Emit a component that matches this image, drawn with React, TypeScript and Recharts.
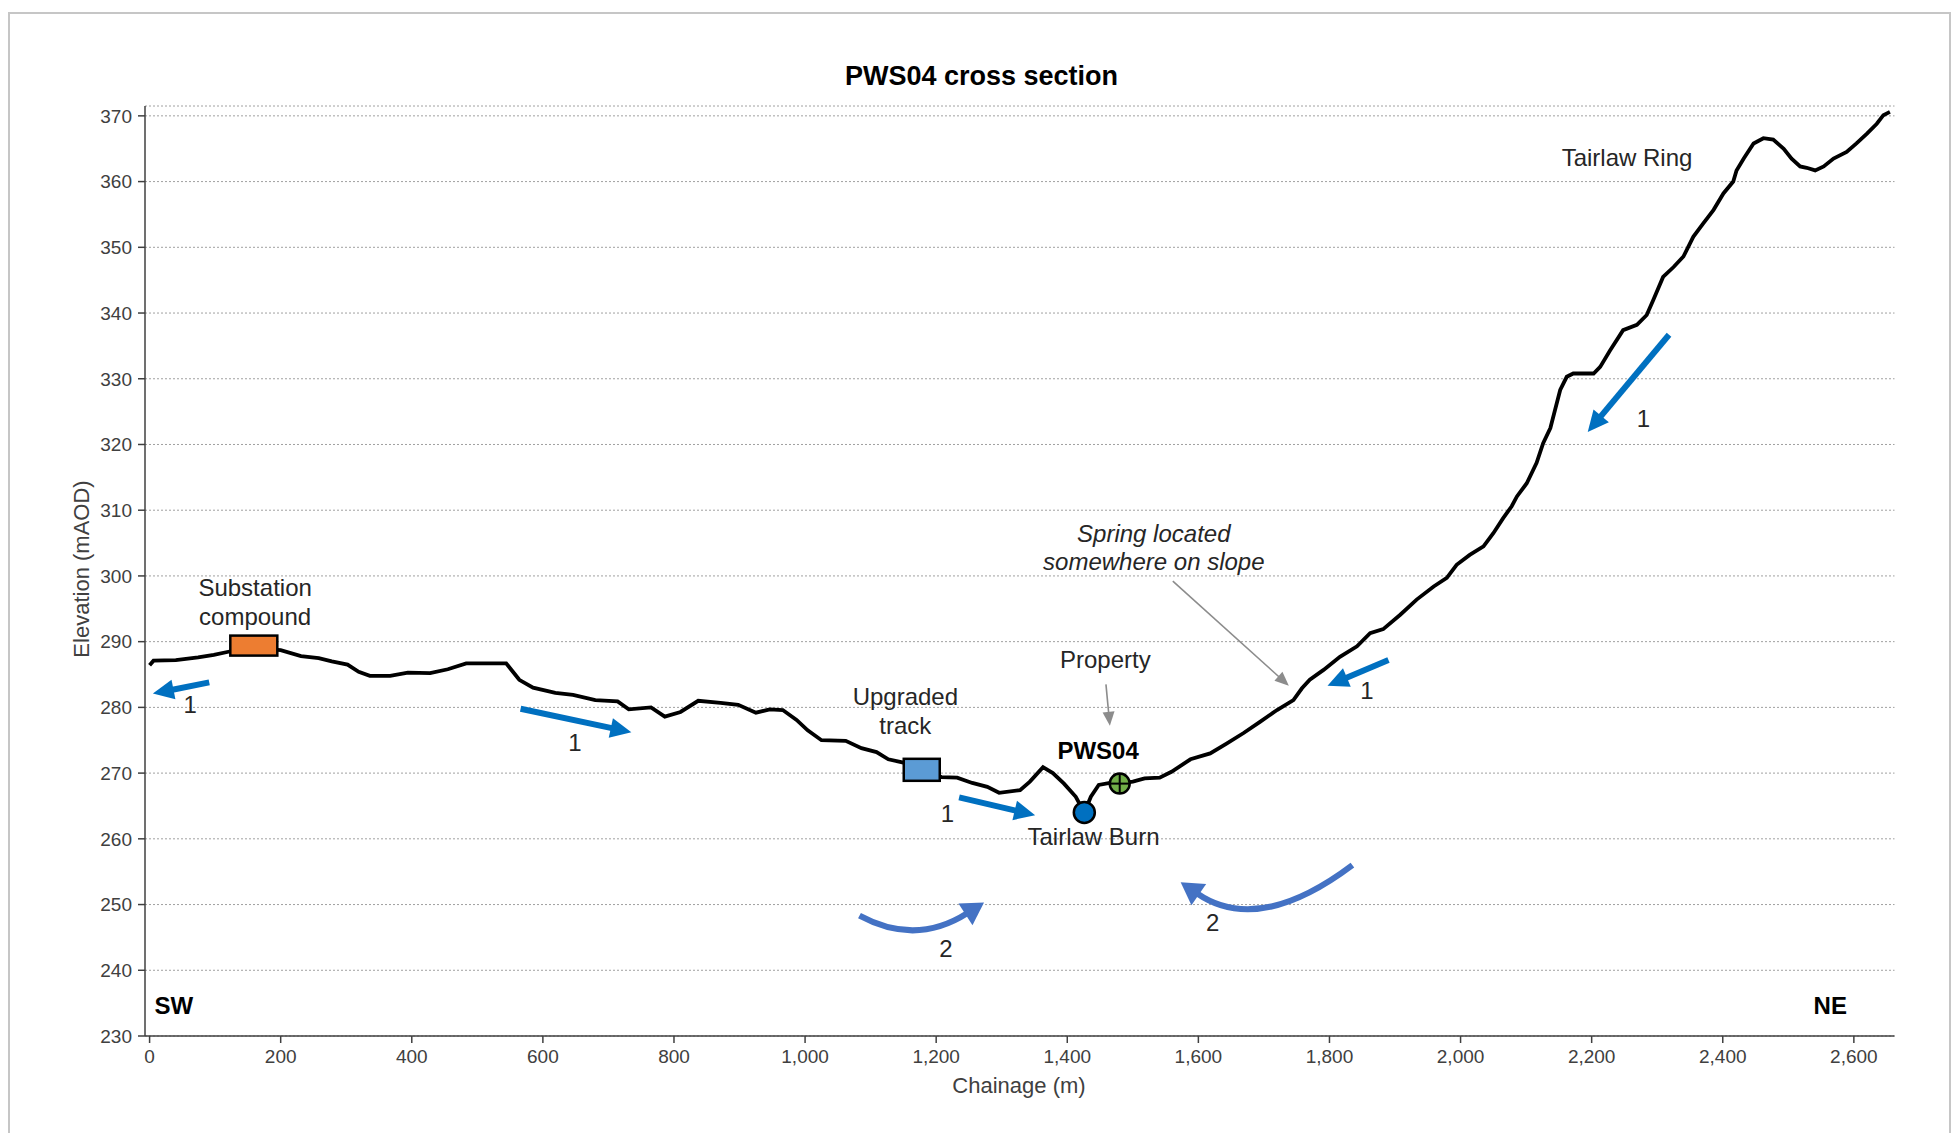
import React from 'react';
import { LineChart, Line, XAxis, YAxis, CartesianGrid, ReferenceDot, ReferenceLine } from 'recharts';

// ground profile
const chainage = [
  0, 6, 40, 74, 98, 122, 160, 200, 231, 258, 278, 302, 319, 336, 367, 394, 428, 455, 483, 544,
  564, 585, 619, 646, 680, 714, 731, 765, 786, 810, 837, 871, 898, 925, 946, 966, 987, 1004, 1025, 1062,
  1086, 1109, 1127, 1150, 1178, 1208, 1232, 1255, 1278, 1296, 1328, 1343, 1363, 1378, 1395, 1413, 1426, 1436, 1448, 1465,
  1480, 1500, 1518, 1541, 1559, 1588, 1618, 1643, 1669, 1694, 1720, 1745, 1758, 1770, 1791, 1816, 1842, 1862, 1882, 1908,
  1933, 1959, 1979, 1994, 2014, 2035, 2050, 2065, 2078, 2086, 2101, 2116, 2126, 2137, 2144, 2152, 2162, 2172, 2203, 2213,
  2228, 2248, 2269, 2284, 2294, 2309, 2325, 2340, 2355, 2370, 2386, 2401, 2416, 2421, 2432, 2447, 2462, 2477, 2493, 2505,
  2518, 2528, 2541, 2554, 2569, 2589, 2604, 2620, 2635, 2645, 2655,
];
const elevation = [
  286.4, 287.1, 287.2, 287.6, 288.0, 288.5, 289.0, 288.7, 287.8, 287.5, 287.0, 286.5, 285.4, 284.8, 284.8, 285.3, 285.2, 285.8, 286.7, 286.7,
  284.2, 283.0, 282.2, 281.9, 281.1, 280.9, 279.7, 280.0, 278.6, 279.3, 281.0, 280.7, 280.4, 279.2, 279.7, 279.6, 278.1, 276.5, 275.0, 274.9,
  273.8, 273.2, 272.1, 271.6, 270.5, 269.4, 269.3, 268.5, 267.9, 267.0, 267.4, 268.7, 270.9, 270.0, 268.4, 266.4, 264.0, 266.4, 268.2, 268.5,
  268.4, 268.7, 269.2, 269.3, 270.2, 272.1, 273.0, 274.5, 276.1, 277.8, 279.6, 281.1, 282.9, 284.2, 285.7, 287.7, 289.3, 291.3, 291.9, 294.1,
  296.4, 298.4, 299.7, 301.7, 303.2, 304.5, 306.5, 308.8, 310.6, 312.1, 314.1, 317.2, 320.2, 322.5, 325.2, 328.3, 330.3, 330.8, 330.8, 331.8,
  334.3, 337.4, 338.2, 339.7, 342.0, 345.5, 347.0, 348.6, 351.6, 353.6, 355.7, 358.2, 360.0, 361.7, 363.5, 365.8, 366.6, 366.4, 365.0, 363.5,
  362.3, 362.1, 361.7, 362.3, 363.5, 364.5, 365.8, 367.3, 368.8, 370.1, 370.6,
];

const xTicks = [0, 200, 400, 600, 800, 1000, 1200, 1400, 1600, 1800, 2000, 2200, 2400, 2600];
const yTicks = [230, 240, 250, 260, 270, 280, 290, 300, 310, 320, 330, 340, 350, 360, 370];

// features on the profile [chainage, elevation]
const substation = [159, 289.4];
const upgradedTrack = [1178, 270.5];
const tairlawBurn = [1426, 264.0];
const pws04 = [1480, 268.4];

// groundwater flow arrows, [from, to]
const flowArrows = [
  [[91, 283.8], [5, 282.1]],
  [[566, 279.8], [735, 276.2]],
  [[1235, 266.3], [1351, 263.6]],
  [[1890, 287.2], [1797, 283.3]],
  [[2318, 336.7], [2194, 321.9]],
];
const deepArrows = [
  [[1083, 248.3], [1273, 250.3]],
  [[1835, 256.0], [1573, 253.4]],
];
const pointerArrows = [
  [[1459, 283.5], [1465, 277.2]],
  [[1561, 299.2], [1738, 283.3]],
];

// annotation text [text, chainage, elevation, kind]
const notes: [string, number, number, string][] = [
  ['Substation', 161, 298.3, 'plain'],
  ['compound', 161, 293.9, 'plain'],
  ['1', 62, 280.4, 'plain'],
  ['1', 649, 274.7, 'plain'],
  ['Upgraded', 1153, 281.6, 'plain'],
  ['track', 1153, 277.3, 'plain'],
  ['1', 1217, 263.9, 'plain'],
  ['Property', 1458, 287.3, 'plain'],
  ['PWS04', 1447, 273.5, 'bold'],
  ['Tairlaw Burn', 1440, 260.3, 'plain'],
  ['Spring located', 1532, 306.5, 'italic'],
  ['somewhere on slope', 1532, 302.2, 'italic'],
  ['1', 1857, 282.6, 'plain'],
  ['1', 2279, 324.0, 'plain'],
  ['Tairlaw Ring', 2254, 363.6, 'plain'],
  ['2', 1215, 243.3, 'plain'],
  ['2', 1622, 247.3, 'plain'],
  ['SW', 37, 234.7, 'bold'],
  ['NE', 2564, 234.7, 'bold'],
];

const profile = chainage.map((x, i) => ({ x, y: elevation[i] }));

const FONT = '"Liberation Sans", Arial, sans-serif';

const arrowShape = (color: string, width: number, head: number, headW: number) => (p: any) => {
  const { x1, y1, x2, y2 } = p;
  const dx = x2 - x1;
  const dy = y2 - y1;
  const len = Math.hypot(dx, dy) || 1;
  const ux = dx / len;
  const uy = dy / len;
  const bx = x2 - ux * head;
  const by = y2 - uy * head;
  const nx = -uy * headW / 2;
  const ny = ux * headW / 2;
  return (
    <g>
      <line x1={x1} y1={y1} x2={bx + ux} y2={by + uy} stroke={color} strokeWidth={width} />
      <polygon points={`${x2},${y2} ${bx + nx},${by + ny} ${bx - nx},${by - ny}`} fill={color} />
    </g>
  );
};

// curved arrow: quadratic bend, control point pushed off the chord
const curveShape = (offX: number, offY: number) => (p: any) => {
  const { x1, y1, x2, y2 } = p;
  const cx = (x1 + x2) / 2 + offX;
  const cy = (y1 + y2) / 2 + offY;
  const tx = x2 - cx;
  const ty = y2 - cy;
  const len = Math.hypot(tx, ty) || 1;
  const ux = tx / len;
  const uy = ty / len;
  const head = 22;
  const bx = x2 - ux * head;
  const by = y2 - uy * head;
  const nx = -uy * 13;
  const ny = ux * 13;
  return (
    <g>
      <path d={`M${x1},${y1} Q${cx},${cy} ${bx + ux * 2},${by + uy * 2}`} fill="none" stroke="#4472C4" strokeWidth={6} />
      <polygon points={`${x2},${y2} ${bx + nx},${by + ny} ${bx - nx},${by - ny}`} fill="#4472C4" />
    </g>
  );
};

const noteShape = (text: string, kind: string) => (p: any) => (
  <text
    x={p.cx}
    y={p.cy}
    textAnchor="middle"
    dominantBaseline="central"
    fontFamily={FONT}
    fontSize={24}
    fontWeight={kind === 'bold' ? 'bold' : 'normal'}
    fontStyle={kind === 'italic' ? 'italic' : 'normal'}
    fill={kind === 'bold' ? '#000' : '#262626'}
  >
    {text}
  </text>
);

const App = () => (
  <div style={{ position: 'relative', width: 1944, height: 1125, overflow: 'hidden', background: '#fff' }}>
    <div
      style={{
        position: 'absolute',
        left: 0,
        top: 4,
        width: 1939,
        height: 1200,
        border: '2px solid #c6c6c6',
      }}
    />
    <LineChart
      width={1944}
      height={1125}
      data={profile}
      margin={{ top: 98, right: 57.5, bottom: 57, left: 57 }}
    >
      <CartesianGrid vertical={false} stroke="#a0a0a0" strokeDasharray="2 2" />
      <XAxis
        type="number"
        dataKey="x"
        domain={[-7, 2662]}
        ticks={xTicks}
        allowDataOverflow
        tickFormatter={(v: number) => v.toLocaleString('en-US')}
        tick={{ fontSize: 19, fill: '#404040', fontFamily: FONT }}
        stroke="#404040"
        strokeWidth={1.5}
        tickSize={7}
        tickMargin={7}
        height={40}
      />
      <YAxis
        type="number"
        domain={[230, 371.5]}
        ticks={yTicks}
        allowDataOverflow
        tick={{ fontSize: 19, fill: '#404040', fontFamily: FONT }}
        stroke="#404040"
        strokeWidth={1.5}
        tickSize={7}
        tickMargin={6}
        width={80}
      />
      <Line
        type="linear"
        dataKey="y"
        stroke="#000"
        strokeWidth={3.8}
        dot={false}
        activeDot={false}
        isAnimationActive={false}
      />
      {pointerArrows.map((a, i) => (
        <ReferenceLine
          key={`ptr-${i}`}
          segment={[{ x: a[0][0], y: a[0][1] }, { x: a[1][0], y: a[1][1] }]}
          shape={arrowShape('#8c8c8c', 1.6, 14, 12)}
        />
      ))}
      {flowArrows.map((a, i) => (
        <ReferenceLine
          key={`flow-${i}`}
          segment={[{ x: a[0][0], y: a[0][1] }, { x: a[1][0], y: a[1][1] }]}
          shape={arrowShape('#0070C0', 6, 21, 20)}
        />
      ))}
      {deepArrows.map((a, i) => (
        <ReferenceLine
          key={`deep-${i}`}
          segment={[{ x: a[0][0], y: a[0][1] }, { x: a[1][0], y: a[1][1] }]}
          shape={i === 0 ? curveShape(-6, 37) : curveShape(-8, 62)}
        />
      ))}
      <ReferenceDot
        x={substation[0]}
        y={substation[1]}
        r={0}
        shape={(p: any) => (
          <rect x={p.cx - 23.5} y={p.cy - 10} width={47} height={20} fill="#ED7D31" stroke="#000" strokeWidth={2.5} />
        )}
      />
      <ReferenceDot
        x={upgradedTrack[0]}
        y={upgradedTrack[1]}
        r={0}
        shape={(p: any) => (
          <rect x={p.cx - 18} y={p.cy - 11} width={36} height={22} fill="#5B9BD5" stroke="#000" strokeWidth={2.5} />
        )}
      />
      <ReferenceDot
        x={tairlawBurn[0]}
        y={tairlawBurn[1]}
        r={0}
        shape={(p: any) => <circle cx={p.cx} cy={p.cy} r={10.5} fill="#0070C0" stroke="#000" strokeWidth={2.5} />}
      />
      <ReferenceDot
        x={pws04[0]}
        y={pws04[1]}
        r={0}
        shape={(p: any) => (
          <g>
            <circle cx={p.cx} cy={p.cy} r={10} fill="#70AD47" stroke="#000" strokeWidth={2.5} />
            <line x1={p.cx - 10} y1={p.cy} x2={p.cx + 10} y2={p.cy} stroke="#000" strokeWidth={2} />
            <line x1={p.cx} y1={p.cy - 10} x2={p.cx} y2={p.cy + 10} stroke="#000" strokeWidth={2} />
          </g>
        )}
      />
      {notes.map(([text, x, y, kind], i) => (
        <ReferenceDot key={`note-${i}`} x={x} y={y} r={0} shape={noteShape(text, kind)} />
      ))}
    </LineChart>
    <div
      style={{
        position: 'absolute',
        left: 973.5,
        top: 68.4,
        transform: 'translate(-50%, -50%)',
        fontFamily: FONT,
        fontWeight: 'bold',
        fontSize: 27,
        lineHeight: 1,
        whiteSpace: 'nowrap',
        color: '#000',
      }}
    >
      PWS04 cross section
    </div>
    <div
      style={{
        position: 'absolute',
        left: 1011,
        top: 1077.5,
        transform: 'translate(-50%, -50%)',
        fontFamily: FONT,
        fontSize: 22,
        lineHeight: 1,
        whiteSpace: 'nowrap',
        color: '#404040',
      }}
    >
      Chainage (m)
    </div>
    <div
      style={{
        position: 'absolute',
        left: 73.7,
        top: 561,
        transform: 'translate(-50%, -50%) rotate(-90deg)',
        fontFamily: FONT,
        fontSize: 22,
        lineHeight: 1,
        whiteSpace: 'nowrap',
        color: '#404040',
      }}
    >
      Elevation (mAOD)
    </div>
  </div>
);

export default App;
